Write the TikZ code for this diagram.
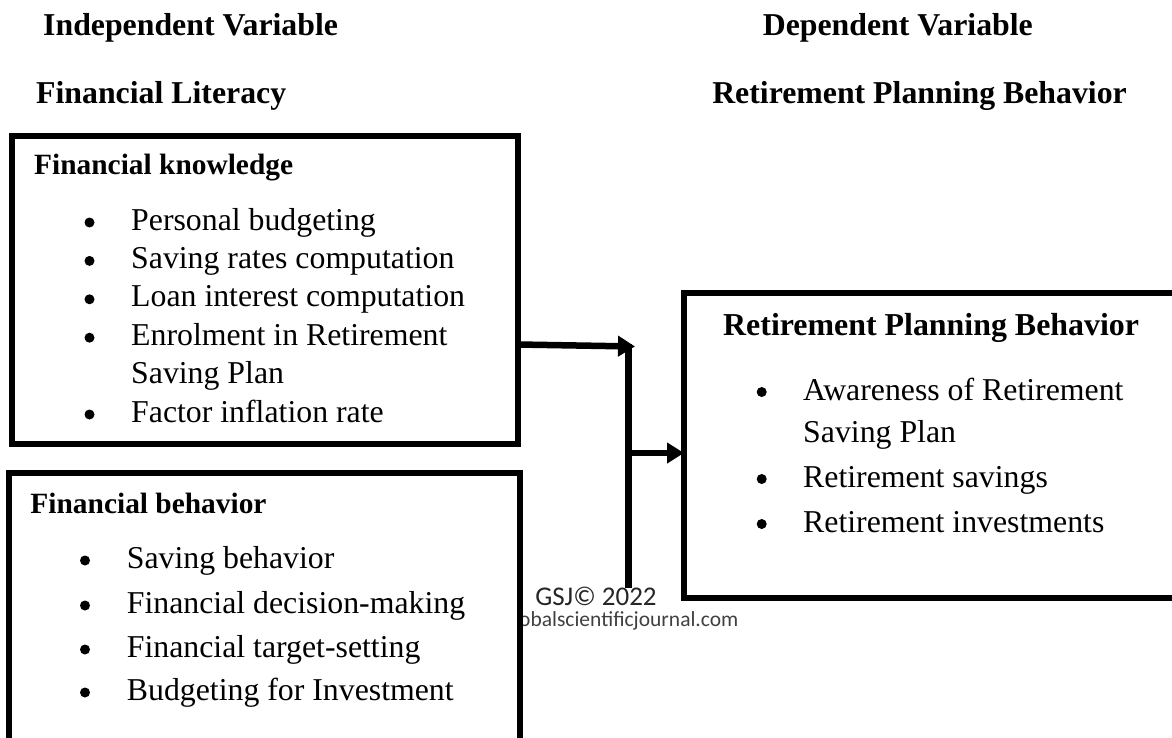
\documentclass[tikz,border=0pt]{standalone}
\usepackage{fontspec}
\setmainfont{Liberation Serif}
\newfontfamily\wmfont{Carlito}
\usetikzlibrary{arrows.meta}
\begin{document}
\begin{tikzpicture}[x=1pt,y=-1pt,
  box/.style={draw, line width=6.5pt, fill=white, inner sep=0pt, outer sep=0pt},
  conn/.style={line width=6.5pt},
  arr/.style={conn, -{Triangle[length=17pt,width=20pt]}},
  title/.style={font=\fontsize{31.8}{38}\selectfont\bfseries, inner sep=0pt},
  head/.style={font=\fontsize{29.4}{35}\selectfont\bfseries, inner sep=0pt, anchor=base west},
  rhead/.style={font=\fontsize{31.9}{38}\selectfont\bfseries, inner sep=0pt, anchor=base west},
  item/.style={font=\fontsize{31.8}{38}\selectfont, inner sep=0pt, anchor=base west},
  wm/.style={inner sep=0pt, anchor=base},
]
\useasboundingbox (0,0) rectangle (1172,738);
\clip (0,0) rectangle (1172,738);

% watermark (partly hidden by the lower box)
\node[wm, font=\wmfont\fontsize{27}{29}\selectfont, text=black!85, text depth=0pt] (gsj) at (596,605) {GSJ© 2022};
\node[wm, font=\wmfont\fontsize{21.5}{24}\selectfont, text=black!75, text height=14pt] (url) at (596,626) {www.globalscientificjournal.com};

% boxes
\node[box, minimum width=506pt, minimum height=308pt] (fk) at (265,290) {};
\node[box, minimum width=511pt, minimum height=290pt] (fb) at (264.5,618) {};
\node[box, minimum width=520pt, minimum height=305pt] (rp) at (944,445.5) {};

% connectors
\coordinate (t1) at (635,346.5);
\coordinate (vt) at (628.5,344);
\coordinate (vb) at (628.5,588);
\draw[conn] (vt) -- (vb);
\draw[arr] (fk.east |- 0,344.5) -- (t1);
\draw[arr] (vt |- 0,453) -- (rp.west |- 0,453);

% titles
\node[title, anchor=base west] (iv) at (43,36) {Independent Variable};
\node[title, anchor=base west] (fl) at (36,104) {Financial Literacy};
\node[title, anchor=base east] (dv) at (1033,36) {Dependent Variable};
\node[title, anchor=base east] (rpt) at (1127,104) {Retirement Planning Behavior};

% box 1
\node[head] (fkh) at (34,175) {Financial knowledge};
\node[item] (k1) at (131,230) {Personal budgeting};
\node[item] (k2) at (131,268.4) {Saving rates computation};
\node[item] (k3) at (131,306.8) {Loan interest computation};
\node[item] (k4) at (131,345.2) {Enrolment in Retirement};
\node[item] (k4b) at (131,383.6) {Saving Plan};
\node[item] (k5) at (131,422) {Factor inflation rate};
\foreach \y in {230,268.4,306.8,345.2,422}
  \fill (89.5,\y-7.5) circle[radius=5pt];

% box 2
\node[head] (fbh) at (30.3,513) {Financial behavior};
\node[item] (b1) at (126.7,568) {Saving behavior};
\node[item] (b2) at (126.7,613) {Financial decision-making};
\node[item] (b3) at (126.7,657) {Financial target-setting};
\node[item] (b4) at (126.7,700) {Budgeting for Investment};
\foreach \y in {568,613,657,700}
  \fill (85,\y-7.5) circle[radius=5pt];

% box 3
\node[rhead] (rph) at (723,335) {Retirement Planning Behavior};
\node[item] (r1) at (803,400) {Awareness of Retirement};
\node[item] (r1b) at (803,442) {Saving Plan};
\node[item] (r2) at (803,487) {Retirement savings};
\node[item] (r3) at (803,532) {Retirement investments};
\foreach \y in {400,487,532}
  \fill (761.7,\y-8) circle[radius=5pt];
\end{tikzpicture}
\end{document}
